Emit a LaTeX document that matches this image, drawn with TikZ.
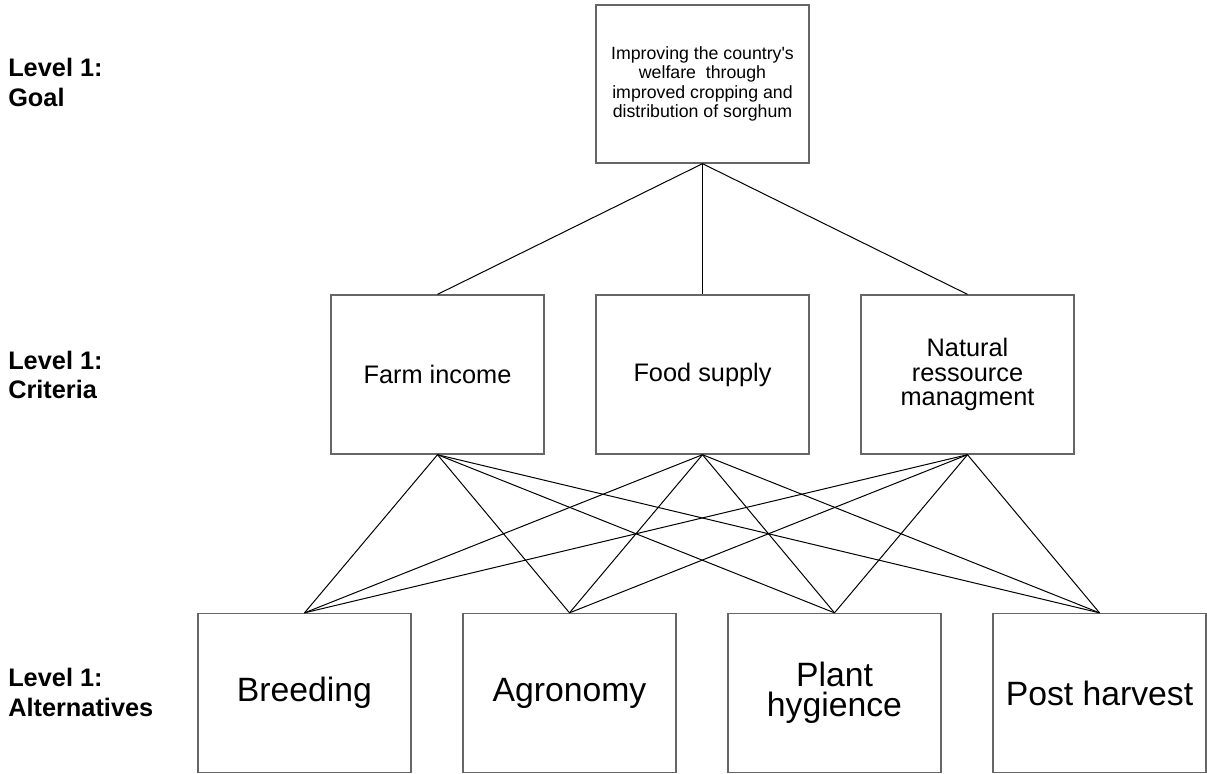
\documentclass[tikz,border=0pt]{standalone}
\usepackage{fontspec}
\setmainfont{Liberation Sans}
\usepackage{tikz}
\usetikzlibrary{positioning}
\tikzset{
	goalbox/.style={
			rectangle, draw=black!60, line width=1pt,
			minimum width=159.75pt, minimum height=118.5pt, inner sep=2pt,
			align=center, font=\fontsize{13.3}{14.6}\selectfont},
	critbox/.style={
			rectangle, draw=black!60, line width=1pt,
			minimum width=159.75pt, minimum height=119.25pt, inner sep=2pt,
			align=center, font=\fontsize{19}{18.5}\selectfont},
	altbox/.style={
			rectangle, draw=black!60, line width=1pt,
			minimum width=159.75pt, minimum height=119.25pt, inner sep=2pt,
			align=center, font=\fontsize{25.3}{22.5}\selectfont},
	levellabel/.style={
			anchor=west, inner sep=0pt, align=left,
			font=\fontsize{19}{22}\selectfont\bfseries},
	link/.style={draw=black, line width=0.75pt},
		}

\begin{document}
\begin{tikzpicture}[x=0.75pt, y=-0.75pt]
	\useasboundingbox (0,0) rectangle (1207,774);

	% goal
	\node[goalbox] (goal) at (702.5,84)
		{Improving the country\textquotesingle s\\
		 welfare~ through\\
		 improved cropping and\\
		 distribution of sorghum};

	% criteria
	\node[critbox, below of=goal, node distance=217.9pt] (food) {Food supply};
	\node[critbox, left of=food, node distance=198.75pt] (farm) {Farm income};
	\node[critbox, right of=food, node distance=198.75pt] (natres)
		{Natural\\ressource\\managment};

	% alternatives
	\node[altbox] (breed) at (304.5,693) {Breeding};
	\node[altbox, right of=breed, node distance=198.75pt] (agro) {Agronomy};
	\node[altbox, right of=agro, node distance=198.75pt] (hyg) {Plant\\hygience};
	\node[altbox, right of=hyg, node distance=198.75pt] (post) {Post harvest};

	% level names
	\node[levellabel] (lgoal) at (8,82.5) {Level 1:\\Goal};
	\node[levellabel] (lcrit) at (8,375) {Level 1:\\Criteria};
	\node[levellabel] (lalt) at (8,692.5) {Level 1:\\Alternatives};

	% links
	\foreach \c in {farm, food, natres}
		\draw[link] (goal.south) -- (\c.north);
	\foreach \c in {farm, food, natres}
		\foreach \a in {breed, agro, hyg, post}
			\draw[link] (\c.south) -- (\a.north);
%
%
\end{tikzpicture}
\end{document}
